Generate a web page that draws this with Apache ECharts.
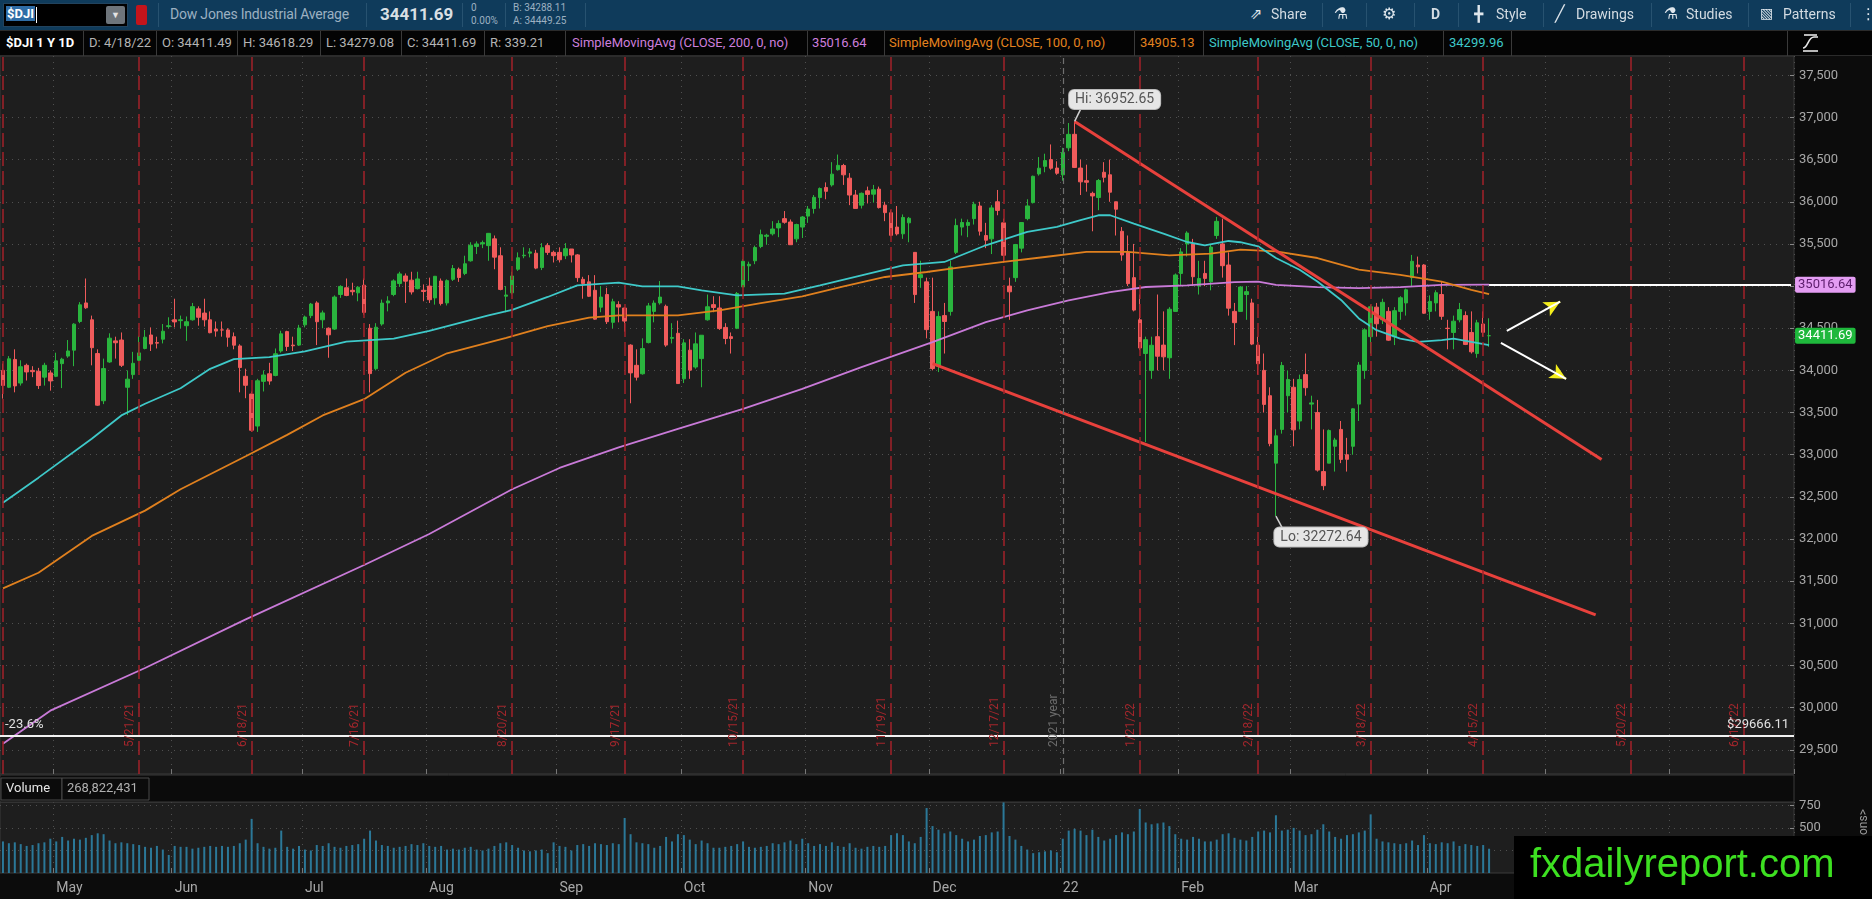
<!DOCTYPE html>
<html><head><meta charset="utf-8">
<script src="https://cdn.jsdelivr.net/npm/echarts@6/dist/echarts.min.js"></script>
<style>
html,body{margin:0;padding:0;background:#0c0c0c;width:1872px;height:899px;overflow:hidden;font-family:Roboto,'Open Sans',sans-serif;}
#chart{position:absolute;left:0;top:0;width:1872px;height:899px;}
.bar1{position:absolute;left:0;top:0;width:1872px;height:30px;background:#0f3b5b;}
.bar2{position:absolute;left:0;top:30px;width:1872px;height:26px;background:#040404;border-top:1px solid #2b2b2b;border-bottom:1px solid #2b2b2b;box-sizing:border-box;}
.t{position:absolute;white-space:nowrap;font-family:Roboto,sans-serif;}
.sep1{position:absolute;top:3px;width:1px;height:24px;background:#275270;}
.sep2{position:absolute;top:0;width:1px;height:25px;background:#3a3a3a;}
.ico{position:absolute;white-space:nowrap;font-family:'DejaVu Sans',sans-serif;color:#dfe6ec;}
.b1t{font-size:14px;color:#d3dbe2;top:6px;}
.b2t{font-size:13px;color:#b4b4b4;top:4px;}
</style></head><body>
<div id="chart"></div>

<div class="bar1">
  <div style="position:absolute;left:3px;top:3px;width:125px;height:24px;background:#000;border:1px solid #21435e;box-sizing:border-box;"></div>
  <span class="t" style="left:6px;top:6px;font-weight:bold;font-size:13px;color:#fff;background:#2f6da6;padding:0 1px;">$DJI</span>
  <div style="position:absolute;left:36px;top:7px;width:1px;height:16px;background:#fff"></div>
  <div style="position:absolute;left:106px;top:6px;width:19px;height:18px;background:#6e757b;border-radius:2px;color:#e4e4e4;font-size:9px;text-align:center;line-height:18px;">&#9660;</div>
  <div style="position:absolute;left:136px;top:5px;width:11px;height:20px;background:#c3141b;border-radius:2px;"></div>
  <div class="sep1" style="left:158px"></div>
  <span class="t" style="left:170px;top:6px;font-size:14px;color:#9cb0c1;letter-spacing:-0.2px">Dow Jones Industrial Average</span>
  <div class="sep1" style="left:366px"></div>
  <span class="t" style="left:380px;top:4px;font-weight:bold;font-size:17px;color:#d9dfe4">34411.69</span>
  <div class="sep1" style="left:462px"></div>
  <span class="t" style="left:471px;top:2px;font-size:10px;color:#9cb0c1">0</span>
  <span class="t" style="left:471px;top:15px;font-size:10px;color:#9cb0c1">0.00%</span>
  <div class="sep1" style="left:505px"></div>
  <span class="t" style="left:513px;top:2px;font-size:10px;color:#9cb0c1">B: 34288.11</span>
  <span class="t" style="left:513px;top:15px;font-size:10px;color:#9cb0c1">A: 34449.25</span>
  <div class="sep1" style="left:585px"></div>

  <span class="ico" style="left:1250px;top:5px;font-size:15px">&#8663;</span>
  <span class="t b1t" style="left:1271px">Share</span>
  <div class="sep1" style="left:1322px"></div>
  <span class="ico" style="left:1334px;top:4px;font-size:16px">&#9879;</span>
  <div class="sep1" style="left:1366px"></div>
  <span class="ico" style="left:1382px;top:4px;font-size:16px">&#9881;</span>
  <div class="sep1" style="left:1414px"></div>
  <span class="t" style="left:1431px;top:6px;font-size:14px;font-weight:bold;color:#d3dbe2">D</span>
  <div class="sep1" style="left:1458px"></div>
  <span class="ico" style="left:1474px;top:5px;font-size:15px">&#9547;</span>
  <span class="t b1t" style="left:1496px">Style</span>
  <div class="sep1" style="left:1543px"></div>
  <span class="ico" style="left:1555px;top:4px;font-size:16px">&#9585;</span>
  <span class="t b1t" style="left:1576px">Drawings</span>
  <div class="sep1" style="left:1651px"></div>
  <span class="ico" style="left:1664px;top:4px;font-size:16px">&#9879;</span>
  <span class="t b1t" style="left:1686px">Studies</span>
  <div class="sep1" style="left:1748px"></div>
  <span class="ico" style="left:1760px;top:5px;font-size:14px">&#9639;</span>
  <span class="t b1t" style="left:1783px">Patterns</span>
  <div class="sep1" style="left:1850px"></div>
  <span class="ico" style="left:1861px;top:5px;font-size:15px">&#8942;</span>
</div>

<div class="bar2">
  <span class="t" style="left:6px;top:4px;font-size:13px;font-weight:bold;color:#fff">$DJI 1 Y 1D</span>
  <div class="sep2" style="left:83px"></div>
  <span class="t b2t" style="left:89px">D: 4/18/22</span>
  <div class="sep2" style="left:156px"></div>
  <span class="t b2t" style="left:162px">O: 34411.49</span>
  <div class="sep2" style="left:237px"></div>
  <span class="t b2t" style="left:243px">H: 34618.29</span>
  <div class="sep2" style="left:320px"></div>
  <span class="t b2t" style="left:326px">L: 34279.08</span>
  <div class="sep2" style="left:401px"></div>
  <span class="t b2t" style="left:407px">C: 34411.69</span>
  <div class="sep2" style="left:484px"></div>
  <span class="t b2t" style="left:490px">R: 339.21</span>
  <div class="sep2" style="left:565px"></div>
  <span class="t b2t" style="left:572px;color:#cc7fdc">SimpleMovingAvg (CLOSE, 200, 0, no)</span>
  <div class="sep2" style="left:807px"></div>
  <span class="t b2t" style="left:812px;color:#cc7fdc">35016.64</span>
  <div class="sep2" style="left:884px"></div>
  <span class="t b2t" style="left:889px;color:#e3821f">SimpleMovingAvg (CLOSE, 100, 0, no)</span>
  <div class="sep2" style="left:1134px"></div>
  <span class="t b2t" style="left:1140px;color:#e3821f">34905.13</span>
  <div class="sep2" style="left:1203px"></div>
  <span class="t b2t" style="left:1209px;color:#3ec9c9">SimpleMovingAvg (CLOSE, 50, 0, no)</span>
  <div class="sep2" style="left:1443px"></div>
  <span class="t b2t" style="left:1449px;color:#3ec9c9">34299.96</span>
  <div class="sep2" style="left:1511px"></div>
  <div class="sep2" style="left:1787px"></div>
  <svg style="position:absolute;left:1800px;top:2px" width="22" height="21" viewBox="0 0 22 21">
    <path d="M3 15 C8 15 8 4 14 4 L18 4" stroke="#e8e8e8" stroke-width="1.6" fill="none"/>
    <line x1="3" y1="18" x2="18" y2="18" stroke="#e8e8e8" stroke-width="1.6"/>
    <line x1="4" y1="2" x2="17" y2="2" stroke="#e8e8e8" stroke-width="1.6"/>
  </svg>
</div>

<script>
// ---------- trading sessions (x categories) ----------
const sessions = [
  ['2021-04',[20,21,22,23,26,27,28,29,30]],
  ['2021-05',[3,4,5,6,7,10,11,12,13,14,17,18,19,20,21,24,25,26,27,28]],
  ['2021-06',[1,2,3,4,7,8,9,10,11,14,15,16,17,18,21,22,23,24,25,28,29,30]],
  ['2021-07',[1,2,6,7,8,9,12,13,14,15,16,19,20,21,22,23,26,27,28,29,30]],
  ['2021-08',[2,3,4,5,6,9,10,11,12,13,16,17,18,19,20,23,24,25,26,27,30,31]],
  ['2021-09',[1,2,3,7,8,9,10,13,14,15,16,17,20,21,22,23,24,27,28,29,30]],
  ['2021-10',[1,4,5,6,7,8,11,12,13,14,15,18,19,20,21,22,25,26,27,28,29]],
  ['2021-11',[1,2,3,4,5,8,9,10,11,12,15,16,17,18,19,22,23,24,26,29,30]],
  ['2021-12',[1,2,3,6,7,8,9,10,13,14,15,16,17,20,21,22,23,27,28,29,30,31]],
  ['2022-01',[3,4,5,6,7,10,11,12,13,14,18,19,20,21,24,25,26,27,28,31]],
  ['2022-02',[1,2,3,4,7,8,9,10,11,14,15,16,17,18,22,23,24,25,28]],
  ['2022-03',[1,2,3,4,7,8,9,10,11,14,15,16,17,18,21,22,23,24,25,28,29,30,31]],
  ['2022-04',[1,4,5,6,7,8,11,12,13,14,18]]
];
const futureSessions = [
  ['2022-04',[19,20,21,22,25,26,27,28,29]],
  ['2022-05',[2,3,4,5,6,9,10,11,12,13,16,17,18,19,20,23,24,25,26,27,31]],
  ['2022-06',[1,2,3,6,7,8,9,10,13,14,15,16,17,21,22,23,24,27,28,29,30]]
];

// ---------- daily OHLC ($DJI) ----------
const opens = [
 34000,33800,34130,33850,34060,34000,33990,33920,33970,
 33930,34080,34170,34240,34580,34800,34600,34200,33640,34100,34350,34360,33800,33950,34120,34260,34420,34330,34370,34520,
 34600,34590,34530,34600,34730,34680,34600,34490,34480,34480,34400,34290,33930,33720,33340,33870,33960,33940,34230,34460,34300,34300,
 34540,34650,34800,34600,34500,34490,34900,34980,34950,34920,35010,34500,34020,34550,34800,34900,35030,35120,35070,34970,34950,
 35000,34860,35060,34800,35080,35200,35150,35300,35470,35500,35480,35560,35360,34880,34920,35200,35360,35390,35390,35220,35480,35400,
 35400,35360,35440,35370,35080,35050,34950,34750,34900,34570,34780,34740,34300,34060,33960,34330,34700,34800,34760,34380,34440,
 33900,34240,34040,34140,34600,34780,34740,34510,34400,34500,34990,35240,35300,35470,35590,35620,35690,35800,35760,35560,35700,
 35830,35920,36050,36170,36200,36380,36430,36280,36080,35960,36130,36090,36150,35960,35870,35700,35620,35750,35400,35100,35050,
 34700,34050,34650,34700,35400,35700,35720,35800,35950,35600,35560,36000,35750,35000,35100,35450,35800,35990,36330,36420,36500,36400,
 36320,36640,36800,36400,36250,36100,36050,36350,36320,36000,35650,35400,35100,34600,34200,34000,34400,34300,34150,34700,
 35150,35500,35500,35000,35150,35050,35600,35500,35250,34700,34700,34900,34800,34300,34000,33700,32900,33300,33700,
 33800,33400,33950,33600,33500,32800,32900,33100,33300,33000,33100,33600,34000,34400,34750,34600,34700,34400,34700,34800,35100,35250,35250,
 34700,34800,34900,34500,34450,34600,34650,34450,34200,34550,34411.49
];
const highs = [
 34080,34170,34250,34120,34080,34050,34030,34090,34000,
 34210,34150,34360,34560,34810,35090,34650,34250,34140,34440,34400,34450,34000,34220,34410,34480,34510,34400,34550,34630,
 34850,34650,34640,34800,34760,34850,34700,34580,34580,34500,34450,34310,34020,33750,33900,34000,34090,34260,34470,34470,34400,34540,
 34650,34800,34820,34710,34510,34890,35010,35090,35040,35000,35090,34550,34560,34840,34880,35080,35170,35150,35170,35170,35020,
 35100,35120,35090,35080,35250,35220,35360,35520,35530,35540,35630,35600,35460,35000,35170,35400,35460,35450,35430,35510,35510,35420,
 35460,35510,35440,35380,35110,35130,35130,35000,34980,34850,34820,34750,34310,34250,34380,34800,34830,35060,34780,34560,34590,
 34370,34370,34450,34420,34900,34880,34880,34560,34450,34930,35320,35290,35480,35670,35620,35770,35780,35890,35790,35740,35830,
 35950,36080,36170,36230,36470,36560,36450,36340,36140,36110,36180,36200,36180,36000,35900,35950,35850,35820,35400,35300,35100,
 35100,34700,34800,35300,35800,35800,35790,36000,36000,35750,35960,36140,35800,35100,35500,35760,36030,36310,36530,36570,36680,36480,
 36640,36934,36952.65,36500,36440,36120,36270,36470,36500,36000,35700,35600,35500,34900,34400,34400,34900,34700,34750,35150,
 35450,35650,35560,35300,35300,35500,35820,35800,35400,34800,35000,35000,34850,34400,34200,33800,33300,34100,34000,
 33900,33950,34200,33700,33650,33300,33300,33200,33400,33200,33550,34100,34500,34780,34800,34850,34750,34750,34880,34970,35370,35350,35260,
 34890,34950,35050,34600,34650,34800,34700,34700,34600,34700,34618.29
];
const lows = [
 33665,33790,33740,33820,33880,33920,33780,33820,33760,
 33920,33790,34150,34050,34560,34730,34060,33580,33600,34090,34140,34040,33470,33900,34110,34250,34230,34260,34320,34500,
 34510,34500,34350,34590,34530,34520,34440,34400,34400,34280,34250,33740,33670,33270,33270,33750,33830,33930,34210,34230,34230,34290,
 34510,34620,34300,34500,34150,34480,34860,34880,34890,34820,34660,33740,34000,34530,34700,34880,34990,34800,34900,34960,34820,
 34800,34780,34770,34770,35060,35050,35130,35290,35380,35450,35300,35200,34950,34690,34900,35180,35330,35340,35200,35190,35370,35280,
 35280,35320,35280,35050,34850,34870,34600,34690,34550,34500,34570,34460,33610,33880,33950,34320,34570,34780,34280,34320,33840,
 33850,33900,34020,33800,34590,34690,34480,34310,34200,34490,34990,35060,35260,35450,35490,35600,35580,35740,35490,35520,35570,
 35750,35860,35920,36030,36180,36370,36200,35960,35920,35920,35980,35990,35920,35770,35590,35600,35560,35520,34800,34980,34380,
 34000,33980,34200,34650,35380,35600,35580,35730,35600,35450,35380,35840,35280,34600,35050,35400,35780,35980,36310,36350,36380,36320,
 36250,36600,36400,36080,36120,35650,35900,36230,36000,35600,35300,35000,34700,34240,33150,33900,34000,34000,33900,34700,
 35000,35350,35000,34900,35000,34950,35560,35100,34650,34300,34700,34600,34300,33950,33500,33100,32272.64,33250,33500,
 33100,33300,33700,33300,32800,32580,32900,32800,32900,32800,33000,33400,33900,34200,34400,34550,34350,34300,34600,34650,35000,35150,34670,
 34600,34700,34600,34250,34250,34570,34300,34200,34150,34400,34279.08
];
const closes = [
 33821.30,34137.31,33815.90,34043.49,33981.57,33984.93,33820.38,34060.36,33874.85,
 34113.23,34133.03,34230.34,34548.53,34777.76,34742.82,34269.16,33587.66,34021.45,34382.13,34327.79,34060.66,33896.04,34084.15,34207.84,34393.98,34312.46,34323.05,34464.64,34529.45,
 34575.31,34600.38,34577.37,34756.39,34630.24,34599.82,34447.14,34466.24,34479.60,34393.75,34299.33,34033.67,33823.45,33290.08,33876.97,33945.58,33874.24,34196.82,34433.84,34283.27,34292.29,34502.51,
 34633.53,34786.35,34577.37,34681.79,34421.93,34870.16,34996.18,34888.79,34933.23,34987.02,34687.85,33962.04,34511.99,34798.00,34823.35,35061.55,35144.31,35058.52,34930.93,35084.53,34935.47,
 34838.16,35116.40,34792.67,35064.25,35208.51,35101.85,35264.67,35484.97,35499.85,35515.38,35625.40,35343.28,34960.69,34894.12,35120.08,35335.71,35366.26,35405.50,35213.12,35455.80,35399.84,35360.73,
 35312.53,35443.82,35369.09,35100.00,35031.07,34879.38,34607.72,34869.63,34577.57,34814.39,34751.32,34584.88,33970.47,33919.84,34258.32,34764.82,34798.00,34869.37,34299.99,34390.72,33843.92,
 34326.46,34002.92,34314.67,34416.99,34754.94,34746.25,34496.06,34378.34,34377.81,34912.56,35294.76,35258.61,35457.31,35609.34,35603.08,35677.02,35741.15,35756.88,35490.69,35730.48,35819.56,
 35913.84,36052.63,36157.58,36124.23,36327.95,36432.22,36319.98,36079.94,35921.23,36100.31,36087.45,36142.22,35931.05,35870.95,35601.98,35619.25,35813.80,35804.38,34899.34,35135.94,34483.72,
 34022.04,34639.79,34580.08,35227.03,35719.43,35754.43,35754.69,35970.99,35650.95,35544.18,35927.43,35897.64,35365.44,34932.16,35492.70,35753.89,35950.56,36302.38,36398.21,36488.63,36398.08,36338.30,
 36585.06,36799.65,36407.11,36236.47,36231.66,36068.87,36252.02,36290.32,36113.62,35911.81,35368.47,35028.65,34715.39,34265.37,34364.50,34297.73,34168.09,34160.78,34725.47,35131.86,
 35405.24,35629.33,35111.16,35089.74,35091.13,35462.78,35768.06,35241.59,34738.06,34566.17,34988.84,34934.27,34312.03,34079.18,33596.61,33131.76,33223.83,34058.75,33892.60,
 33294.95,33891.35,33794.66,33614.80,32817.38,32632.64,33286.25,33174.07,32944.19,32945.24,33544.34,34063.10,34480.76,34754.93,34552.99,34807.46,34358.50,34707.94,34861.24,34955.89,35294.19,35228.81,34678.35,
 34818.27,34921.88,34641.18,34496.51,34583.57,34721.12,34308.08,34220.36,34564.59,34451.23,34411.69
];
// volume, millions of shares
const volumes = [
 350,330,340,320,300,310,330,340,380,
 350,400,360,380,370,390,420,440,430,360,330,340,330,320,310,290,280,300,260,200,
 300,290,290,270,280,290,300,290,300,290,300,330,370,600,330,290,270,280,470,290,270,300,
 260,250,310,300,330,290,280,300,310,320,380,470,360,310,300,280,290,300,320,310,330,
 300,290,300,260,270,260,280,290,260,250,270,300,330,340,310,280,250,240,250,260,220,340,
 300,290,250,310,320,300,330,320,310,330,320,610,430,340,330,320,280,300,400,350,430,
 420,370,320,360,330,280,280,290,300,320,350,290,280,290,300,330,320,340,360,320,380,
 330,300,320,300,340,300,290,330,280,270,290,300,290,300,420,440,420,350,330,400,720,
 520,480,440,460,420,380,350,370,410,420,450,460,800,410,370,300,260,220,230,240,250,230,
 380,470,490,470,420,480,400,360,380,420,450,430,460,710,560,540,550,560,520,430,
 380,370,400,380,350,350,370,430,440,390,370,360,400,460,470,450,640,470,480,
 500,470,420,430,480,540,460,400,380,420,430,450,470,650,380,350,340,330,320,330,360,310,420,
 330,320,340,330,350,300,320,310,300,310,269
];

// ---------- moving averages ----------
const sma200 = [
 ['2021-04-20',29572],['2021-04-30',29964],['2021-05-24',30470],['2021-06-17',31047],['2021-07-16',31692],
 ['2021-08-02',32060],['2021-08-20',32590],['2021-09-01',32843],['2021-09-16',33088],['2021-09-30',33306],
 ['2021-10-15',33544],['2021-10-29',33781],['2021-11-12',34039],['2021-12-01',34336],['2021-12-14',34573],
 ['2021-12-23',34712],['2022-01-04',34830],['2022-01-13',34929],['2022-01-24',34989],['2022-02-02',35009],
 ['2022-02-14',35046],['2022-02-18',35054],['2022-02-24',35014],['2022-03-07',34987],['2022-03-16',34975],
 ['2022-03-25',34987],['2022-04-05',35014],['2022-04-18',35016.64]
];
const sma100 = [
 ['2021-04-20',31415],['2021-04-28',31600],['2021-05-11',32037],['2021-05-24',32337],['2021-06-02',32590],
 ['2021-06-17',32982],['2021-06-28',33235],['2021-07-07',33466],['2021-07-16',33659],['2021-07-27',33972],
 ['2021-08-05',34203],['2021-08-19',34387],['2021-08-30',34525],['2021-09-09',34627],['2021-09-16',34652],
 ['2021-09-30',34652],['2021-10-11',34712],['2021-10-20',34799],['2021-10-29',34878],['2021-11-09',34997],
 ['2021-11-18',35108],['2021-11-30',35167],['2021-12-08',35226],['2021-12-17',35286],['2021-12-29',35345],
 ['2022-01-07',35405],['2022-01-19',35405],['2022-01-28',35365],['2022-02-08',35385],['2022-02-15',35432],
 ['2022-02-24',35412],['2022-03-07',35333],['2022-03-16',35194],['2022-03-25',35134],['2022-04-05',35054],
 ['2022-04-12',34955],['2022-04-18',34905.13]
];
const sma50 = [
 ['2021-04-20',32430],['2021-04-28',32728],['2021-05-11',33190],['2021-05-18',33466],['2021-05-24',33604],
 ['2021-06-02',33788],['2021-06-09',34019],['2021-06-15',34134],['2021-06-23',34157],['2021-07-01',34226],
 ['2021-07-13',34341],['2021-07-23',34378],['2021-08-02',34470],['2021-08-16',34654],['2021-08-20',34719],
 ['2021-08-30',34871],['2021-09-07',35009],['2021-09-16',35040],['2021-09-22',34997],['2021-09-30',34997],
 ['2021-10-06',34949],['2021-10-14',34890],['2021-10-26',34910],['2021-11-03',35009],['2021-11-12',35127],
 ['2021-11-23',35246],['2021-12-03',35286],['2021-12-14',35484],['2021-12-23',35642],['2021-12-31',35701],
 ['2022-01-06',35781],['2022-01-11',35840],['2022-01-13',35840],['2022-01-20',35741],['2022-01-27',35622],
 ['2022-02-02',35523],['2022-02-07',35484],['2022-02-11',35535],['2022-02-15',35520],['2022-02-18',35472],
 ['2022-02-24',35333],['2022-03-02',35194],['2022-03-07',35054],['2022-03-11',34835],['2022-03-16',34616],
 ['2022-03-21',34477],['2022-03-25',34378],['2022-03-30',34338],['2022-04-05',34358],['2022-04-07',34378],
 ['2022-04-12',34338],['2022-04-18',34299.96]
];

// ---------- drawings ----------
const upperTrend = [['2022-01-05',36952.65],['2022-05-13',32943]];
const lowerTrend = [['2021-12-01',34080],['2022-05-12',31100]];
const arrowUp = [['2022-04-21',34469],['2022-05-04',34815]];
const arrowUpHead = [['2022-05-03',34777],['2022-05-04',34815]];
const arrowDown = [['2022-04-20',34326],['2022-05-05',33900]];
const arrowDownHead = [['2022-05-04',33939],['2022-05-05',33900]];
const expiryDates = ['2021-05-21','2021-06-18','2021-07-16','2021-08-20','2021-09-17','2021-10-15','2021-11-19',
  '2021-12-17','2022-01-21','2022-02-18','2022-03-18','2022-04-14','2022-05-20','2022-06-17'];
const expiryLabels = ['5/21/21','6/18/21','7/16/21','8/20/21','9/17/21','10/15/21','11/19/21',
  '12/17/21','1/21/22','2/18/22','3/18/22','4/15/22','5/20/22','6/17/22'];
const yearLine = ['2022-01-03','2021 year'];
const fibLevel = [29666.11,'-23.6%','$29666.11'];
const lastSma200 = 35016.64;
const lastClose = 34411.69;
const hiPoint = ['2022-01-05',36952.65];
const hiPointer = ['2022-01-06',37095];
const loPoint = ['2022-02-24',32272.64];
const loPointer = ['2022-02-25',32140];
const priceTicks = [29500,30000,30500,31000,31500,32000,32500,33000,33500,34000,34500,35000,35500,36000,36500,37000,37500];
const volTicks = [250,500,750];
const monthStarts = [['2021-05-03','May'],['2021-06-01','Jun'],['2021-07-01','Jul'],['2021-08-02','Aug'],
  ['2021-09-01','Sep'],['2021-10-01','Oct'],['2021-11-01','Nov'],['2021-12-01','Dec'],['2022-01-03','22'],
  ['2022-02-01','Feb'],['2022-03-01','Mar'],['2022-04-01','Apr'],['2022-05-02','May'],['2022-06-01','Jun']];

// ---------- build ----------
const toCats = s => s.flatMap(([m, days]) => days.map(d => m + '-' + String(d).padStart(2,'0')));
const dates = toCats(sessions);
const categories = dates.concat(toCats(futureSessions));
const lastCat = categories[categories.length - 1];
const lastDate = dates[dates.length - 1];
const idxOf = {}; categories.forEach((c,i) => idxOf[c] = i);
const monthIdx = new Set(monthStarts.map(m => idxOf[m[0]]));
const monthName = {}; monthStarts.forEach(m => monthName[m[0]] = m[1]);
const isMonth = i => monthIdx.has(i);
const candleData = dates.map((d,i) => [opens[i], closes[i], lows[i], highs[i]]);

const GRID_C = '#505050';
const dotted = {color: GRID_C, type: [1,5], width: 1};
const NOLINE = {color:'rgba(0,0,0,0)', width:1, type:'solid'};

const chart = echarts.init(document.getElementById('chart'), null, {renderer:'canvas'});
chart.setOption({
  animation: false,
  backgroundColor: '#0c0c0c',
  textStyle: {fontFamily: 'Roboto, sans-serif'},
  grid: [
    {left:0, top:56, width:1794, height:718, show:true, backgroundColor:'#1e1e1e', borderColor:'#3a3a3a', borderWidth:1},
    {left:0, top:802, width:1794, height:71, show:true, backgroundColor:'#1e1e1e', borderColor:'#3a3a3a', borderWidth:1}
  ],
  xAxis: [
    {type:'category', gridIndex:0, data:categories, boundaryGap:true,
     axisLine:{show:false}, axisLabel:{show:false},
     axisTick:{show:true, inside:true, length:5, interval:isMonth, lineStyle:{color:'#777'}},
     splitLine:{show:true, interval:isMonth, lineStyle:dotted}},
    {type:'category', gridIndex:1, data:categories, boundaryGap:true,
     axisLine:{show:false},
     axisTick:{show:true, inside:true, length:5, interval:isMonth, lineStyle:{color:'#777'}},
     axisLabel:{show:true, interval:isMonth, formatter:v => monthName[v] || '', align:'left',
                color:'#a8a8a8', fontSize:14, margin:8},
     splitLine:{show:true, interval:isMonth, lineStyle:dotted}}
  ],
  yAxis: [
    {type:'value', gridIndex:0, position:'right', min:29213, max:37729,
     axisLine:{show:false},
     axisTick:{show:true, inside:true, length:4, customValues:priceTicks, lineStyle:{color:'#888'}},
     axisLabel:{show:true, customValues:priceTicks, color:'#a8a8a8', fontSize:13, margin:5},
     splitLine:{show:true, lineStyle:dotted}},
    {type:'value', gridIndex:1, position:'right', min:0, max:787,
     axisLine:{show:false},
     axisTick:{show:true, inside:true, length:4, customValues:volTicks, lineStyle:{color:'#888'}},
     axisLabel:{show:true, customValues:volTicks, color:'#a8a8a8', fontSize:13, margin:5},
     splitLine:{show:true, lineStyle:dotted}}
  ],
  series: [
    {name:'annotations', type:'line', xAxisIndex:0, yAxisIndex:0, data:[], z:1, silent:true,
     markLine:{silent:true, symbol:['none','none'], animation:false,
       data: expiryDates.map((d,i) => ({xAxis:d,
           lineStyle:{color:'#a3222a', type:[14,5], width:1.5},
           label:{show:true, formatter:expiryLabels[i], position:'insideStartTop', distance:[27,3], color:'#a3262c', fontSize:12}}))
         .concat([
           {xAxis:categories[0], lineStyle:{color:'#a3222a', type:[14,5], width:1.5}, label:{show:false}},
           {xAxis:yearLine[0], lineStyle:{color:'#707070', type:[6,4], width:1.2},
            label:{show:true, formatter:yearLine[1], position:'insideStartTop', distance:[27,3], color:'#6c6c6c', fontSize:12}},
           {yAxis:fibLevel[0], lineStyle:{color:'#f2f2f2', width:2, type:'solid'},
            label:{show:true, formatter:fibLevel[1], position:'insideStartTop', color:'#e2e2e2', fontSize:13}},
           {yAxis:fibLevel[0], lineStyle:NOLINE,
            label:{show:true, formatter:fibLevel[2], position:'insideEndTop', color:'#e2e2e2', fontSize:13}},
           [{coord:[lastDate, lastSma200], lineStyle:{color:'#ffffff', width:2, type:'solid'},
             label:{show:true, position:'end', distance:4, formatter:String(lastSma200), backgroundColor:'#e49df3',
                    color:'#5c1d6c', fontSize:13, padding:[2,3,1,3], borderRadius:2}},
            {coord:[lastCat, lastSma200]}],
           [{coord:[lastDate, lastClose], lineStyle:NOLINE,
             label:{show:true, position:'end', distance:4, formatter:String(lastClose), backgroundColor:'#1fb83c',
                    color:'#ffffff', fontSize:13, padding:[2,3,1,3], borderRadius:2}},
            {coord:[lastCat, lastClose]}],
           [{coord:hiPoint, lineStyle:{color:'#cfcfcf', width:1.5, type:'solid'}, label:{show:false}}, {coord:hiPointer}],
           [{coord:loPoint, lineStyle:{color:'#cfcfcf', width:1.5, type:'solid'}, label:{show:false}}, {coord:loPointer}]
         ])
     }},
    {name:'$DJI', type:'candlestick', xAxisIndex:0, yAxisIndex:0, data:candleData, barWidth:4, z:2,
     itemStyle:{color:'#2ab53e', color0:'#f05b5b', borderColor:'#2ab53e', borderColor0:'#f05b5b', borderColorDoji:'#2ab53e', borderWidth:1},
     markPoint:{symbol:'circle', symbolSize:2, itemStyle:{color:'rgba(0,0,0,0)'}, animation:false, silent:true,
       label:{show:true, position:'inside', backgroundColor:'#e6e6e6', color:'#555', fontSize:14,
              padding:[3,6,2,6], borderRadius:5, borderColor:'#bbb', borderWidth:1},
       data:[
         {coord:hiPoint, label:{formatter:'Hi: ' + hiPoint[1], offset:[40,-22]}},
         {coord:loPoint, label:{formatter:'Lo: ' + loPoint[1], offset:[45,21]}}
       ]}},
    {name:'SMA200', type:'line', xAxisIndex:0, yAxisIndex:0, data:sma200, symbol:'none', z:3,
     lineStyle:{color:'#c97ad8', width:1.8}},
    {name:'SMA100', type:'line', xAxisIndex:0, yAxisIndex:0, data:sma100, symbol:'none', z:3,
     lineStyle:{color:'#e0801e', width:1.8}},
    {name:'SMA50', type:'line', xAxisIndex:0, yAxisIndex:0, data:sma50, symbol:'none', z:3,
     lineStyle:{color:'#3ec9c9', width:1.8}},
    {name:'upper trend', type:'line', xAxisIndex:0, yAxisIndex:0, data:upperTrend, symbol:'none', z:4,
     lineStyle:{color:'#e8413c', width:3}},
    {name:'lower trend', type:'line', xAxisIndex:0, yAxisIndex:0, data:lowerTrend, symbol:'none', z:4,
     lineStyle:{color:'#e8413c', width:3}},
    {name:'arrow up', type:'line', xAxisIndex:0, yAxisIndex:0, data:arrowUp, symbol:'none', z:5,
     lineStyle:{color:'#ffffff', width:2},
     markLine:{silent:true, symbol:['none','arrow'], symbolSize:[12,16], label:{show:false},
       lineStyle:{color:'#f4ee1c', width:2, type:'solid'},
       data:[[{coord:arrowUpHead[0]},{coord:arrowUpHead[1]}]]}},
    {name:'arrow down', type:'line', xAxisIndex:0, yAxisIndex:0, data:arrowDown, symbol:'none', z:5,
     lineStyle:{color:'#ffffff', width:2},
     markLine:{silent:true, symbol:['none','arrow'], symbolSize:[12,16], label:{show:false},
       lineStyle:{color:'#f4ee1c', width:2, type:'solid'},
       data:[[{coord:arrowDownHead[0]},{coord:arrowDownHead[1]}]]}},
    {name:'Volume', type:'bar', xAxisIndex:1, yAxisIndex:1, data:volumes, barWidth:2, z:2,
     itemStyle:{color:'#2b7898'}}
  ],
  graphic: [
    {type:'rect', z:100, shape:{x:0, y:775, width:1794, height:27}, style:{fill:'#0b0b0b', stroke:'#3a3a3a', lineWidth:1}},
    {type:'rect', z:101, shape:{x:1, y:778, width:61, height:22}, style:{fill:'#0b0b0b', stroke:'#4a4a4a', lineWidth:1}},
    {type:'text', z:102, x:6, y:789, style:{text:'Volume', fill:'#e6e6e6', font:'13px Roboto', verticalAlign:'middle'}},
    {type:'rect', z:101, shape:{x:62, y:778, width:87, height:22}, style:{fill:'#0b0b0b', stroke:'#4a4a4a', lineWidth:1}},
    {type:'text', z:102, x:67, y:789, style:{text:'268,822,431', fill:'#b0b0b0', font:'13px Roboto', verticalAlign:'middle'}},
    {type:'text', z:102, x:1864, y:822, rotation:Math.PI/2, style:{text:'ons>', fill:'#9a9a9a', font:'12px Roboto', align:'center', verticalAlign:'middle'}},
    {type:'rect', z:200, shape:{x:1514, y:836, width:358, height:63}, style:{fill:'#000000'}},
    {type:'text', z:201, x:1530, y:866, style:{text:'fxdailyreport.com', fill:'#3de021', font:'40px "Liberation Sans", Arial, sans-serif', verticalAlign:'middle'}}
  ]
});
</script>
</body></html>
